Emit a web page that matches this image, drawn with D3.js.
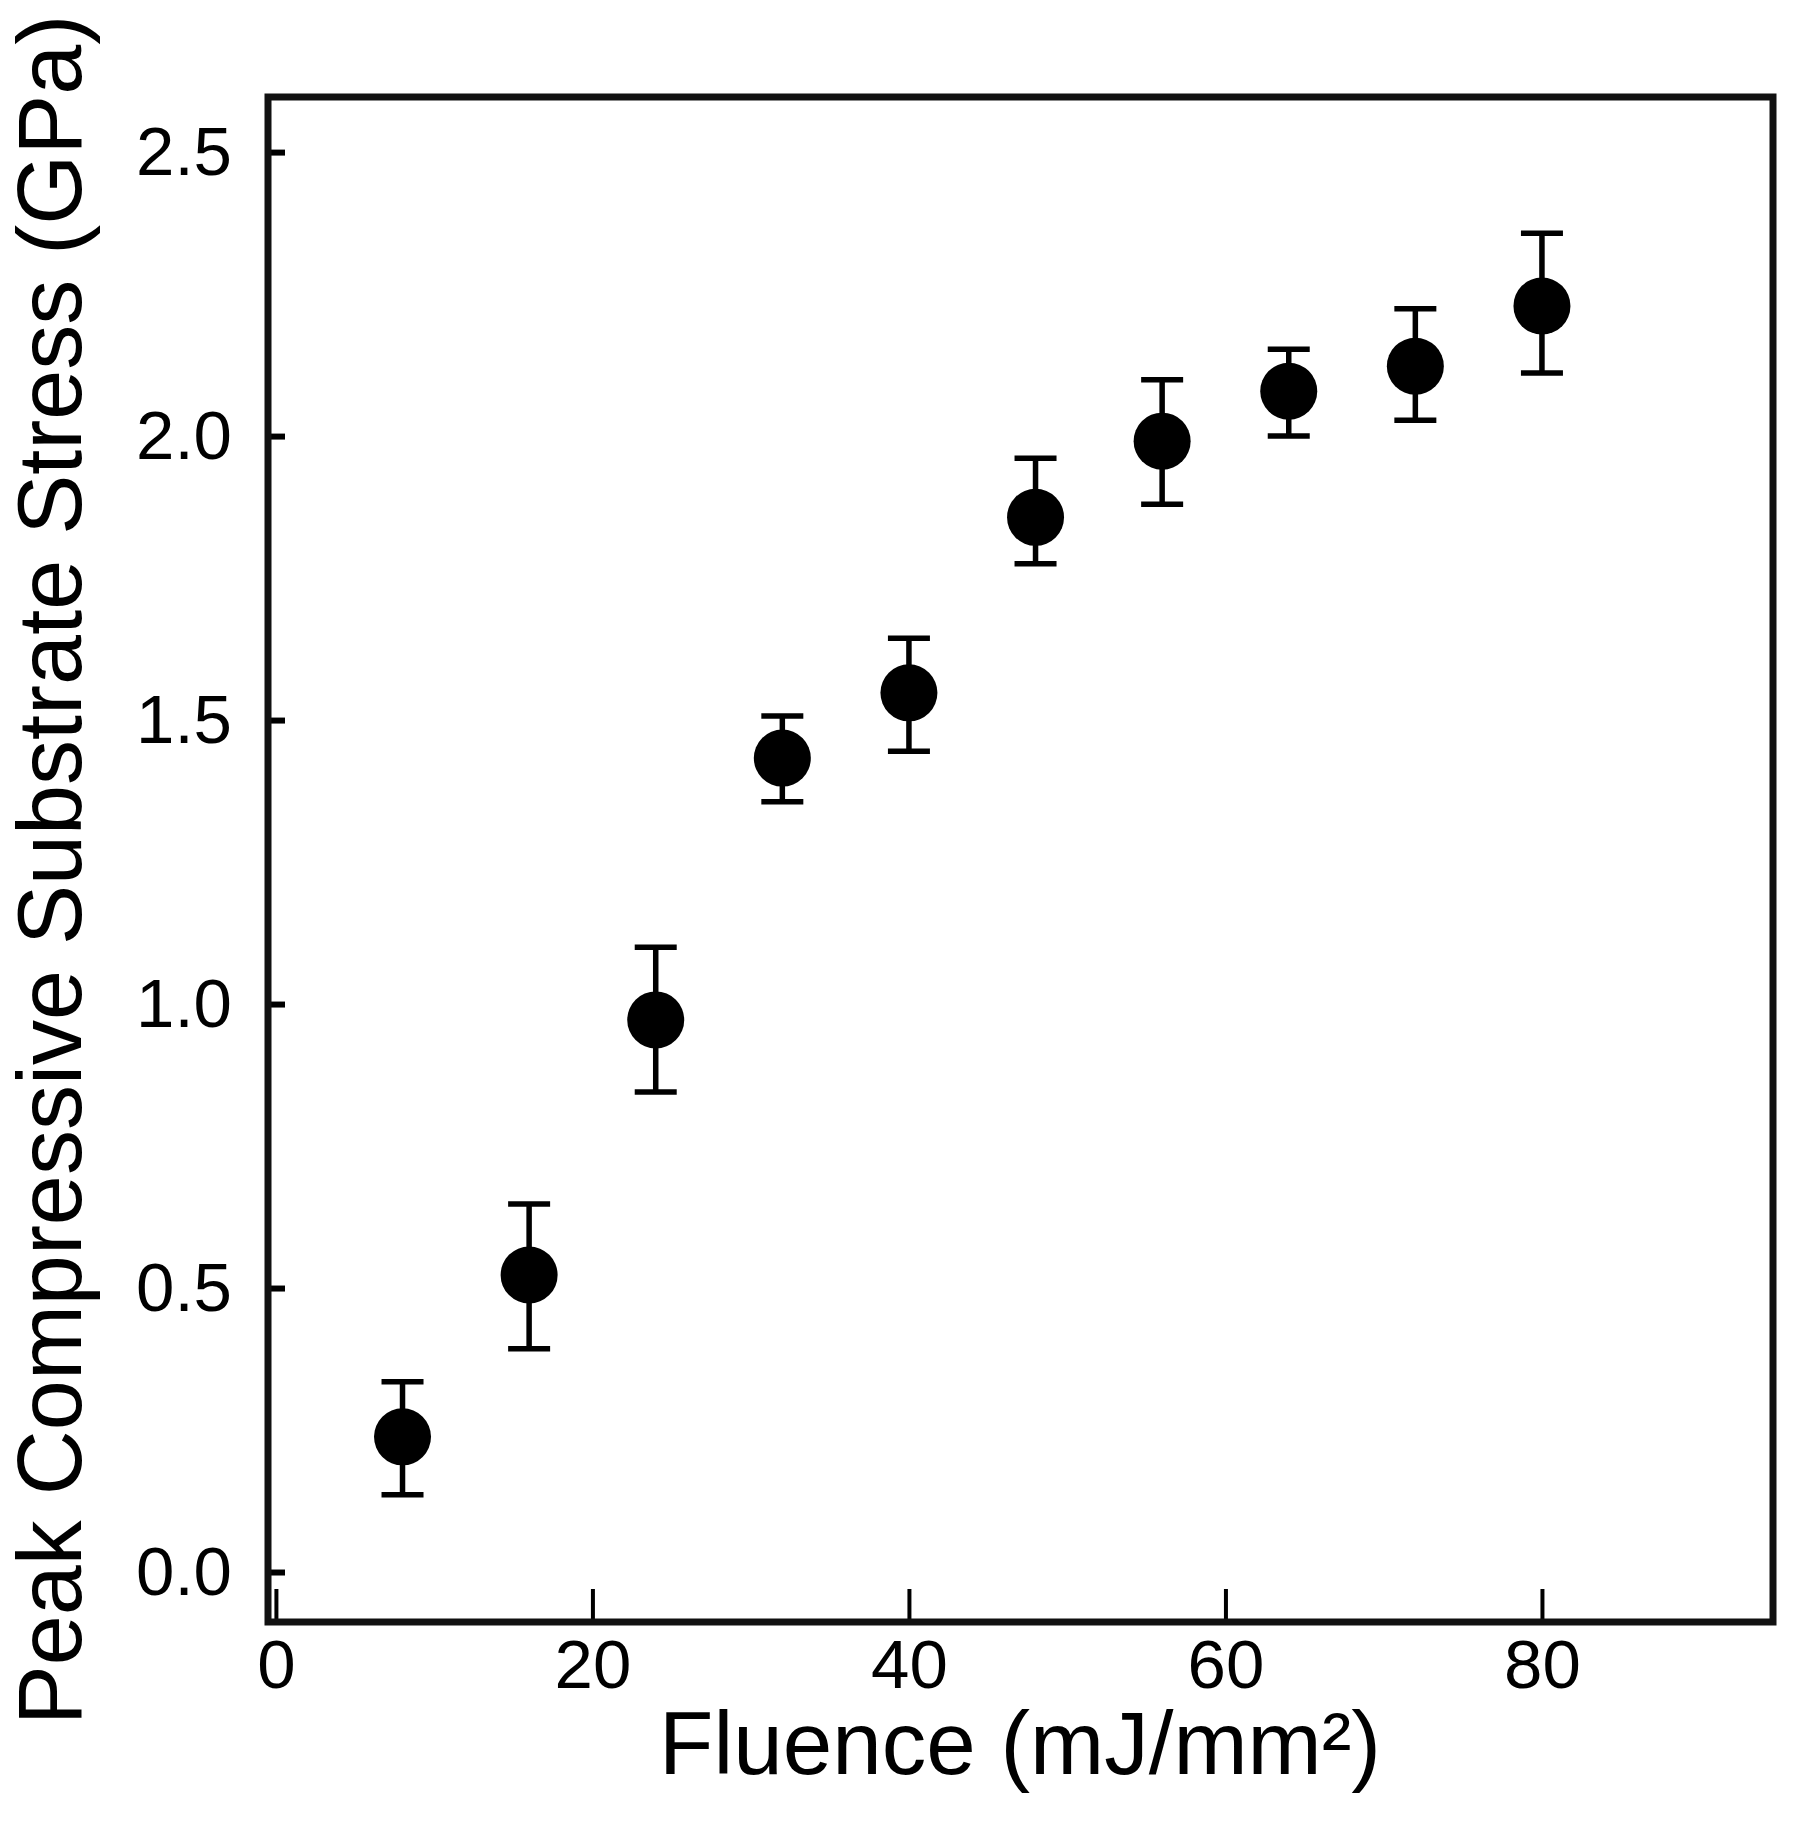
<!DOCTYPE html>
<html>
<head>
<meta charset="utf-8">
<script src="https://cdn.jsdelivr.net/npm/d3@7"></script>
<style>
  body { margin: 0; background: #fff; }
  svg text { font-family: "Liberation Sans", Arial, Helvetica, sans-serif; fill: #000; }
</style>
</head>
<body>
<div id="container"></div>
<script>
/* DATA */
const fluence = [8, 16, 24, 32, 40, 48, 56, 64, 72, 80];
const stress  = [0.238, 0.523, 0.972, 1.433, 1.548, 1.857, 1.991, 2.079, 2.123, 2.229];
const errLow  = [0.136, 0.393, 0.845, 1.356, 1.445, 1.775, 1.880, 2.000, 2.028, 2.111];
const errHigh = [0.335, 0.648, 1.100, 1.507, 1.644, 1.961, 2.099, 2.153, 2.224, 2.357];
const xTicks = [0, 20, 40, 60, 80];
const yTicks = [0, 0.5, 1.0, 1.5, 2.0, 2.5];

/* CONSTANTS */
const width = 1800, height = 1826;
const frame = {left: 268, right: 1773, top: 97, bottom: 1622};

const data = fluence.map((f, i) => ({x: f, y: stress[i], lo: errLow[i], hi: errHigh[i]}));

/* SCALES */
const xScale = d3.scaleLinear()
  .domain([-0.5, 94.6])
  .range([frame.left, frame.right]);

const yScale = d3.scaleLinear()
  .domain([-0.088, 2.597])
  .range([frame.bottom, frame.top]);

/* ELEMENTS */
const svg = d3.select("#container")
  .append("svg")
    .attr("width", width)
    .attr("height", height);

svg.append("rect")
  .attr("width", width).attr("height", height)
  .attr("fill", "#fff");

// y axis, ticks pointing inward
const yAxis = svg.append("g")
  .attr("transform", `translate(${frame.left},0)`)
  .call(d3.axisLeft(yScale).tickValues(yTicks).tickFormat(d3.format(".1f"))
    .tickSize(-17).tickPadding(36));
yAxis.select(".domain").remove();
yAxis.selectAll(".tick line").attr("stroke", "#000").attr("stroke-width", 6);
yAxis.selectAll(".tick text").attr("font-size", "69px").attr("fill", "#000");

// x axis
const xAxis = svg.append("g")
  .attr("transform", `translate(0,${frame.bottom})`)
  .call(d3.axisBottom(xScale).tickValues(xTicks).tickFormat(d3.format("d"))
    .tickSize(-33).tickPadding(17));
xAxis.select(".domain").remove();
xAxis.selectAll(".tick line").attr("stroke", "#000").attr("stroke-width", 4);
xAxis.selectAll(".tick text").attr("font-size", "69px").attr("fill", "#000");

// frame
svg.append("rect")
  .attr("x", frame.left).attr("y", frame.top)
  .attr("width", frame.right - frame.left)
  .attr("height", frame.bottom - frame.top)
  .attr("fill", "none")
  .attr("stroke", "#111")
  .attr("stroke-width", 7);

// error bars
const capW = 21;
const bars = svg.append("g").attr("stroke", "#000").attr("stroke-width", 5.5);

bars.selectAll("line.stem")
  .data(data)
  .join("line")
    .attr("class", "stem")
    .attr("x1", d => xScale(d.x)).attr("x2", d => xScale(d.x))
    .attr("y1", d => yScale(d.lo)).attr("y2", d => yScale(d.hi));

bars.selectAll("line.cap-hi")
  .data(data)
  .join("line")
    .attr("class", "cap-hi")
    .attr("x1", d => xScale(d.x) - capW).attr("x2", d => xScale(d.x) + capW)
    .attr("y1", d => yScale(d.hi)).attr("y2", d => yScale(d.hi));

bars.selectAll("line.cap-lo")
  .data(data)
  .join("line")
    .attr("class", "cap-lo")
    .attr("x1", d => xScale(d.x) - capW).attr("x2", d => xScale(d.x) + capW)
    .attr("y1", d => yScale(d.lo)).attr("y2", d => yScale(d.lo));

// points
svg.append("g")
  .selectAll("circle")
  .data(data)
  .join("circle")
    .attr("cx", d => xScale(d.x))
    .attr("cy", d => yScale(d.y))
    .attr("r", 28.5)
    .attr("fill", "#000");

// axis titles
svg.append("text")
  .attr("x", 1020).attr("y", 1774)
  .attr("text-anchor", "middle")
  .attr("font-size", "89px")
  .text("Fluence (mJ/mm²)");

svg.append("text")
  .attr("transform", "translate(81,870) rotate(-90)")
  .attr("text-anchor", "middle")
  .attr("font-size", "90px")
  .text("Peak Compressive Substrate Stress (GPa)");
</script>
</body>
</html>
